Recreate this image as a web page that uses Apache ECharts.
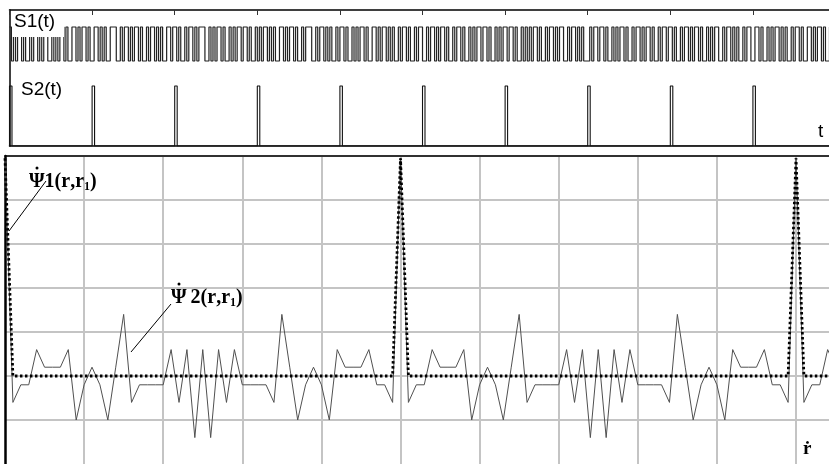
<!DOCTYPE html>
<html><head><meta charset="utf-8">
<script src="https://cdn.jsdelivr.net/npm/echarts@6/dist/echarts.min.js"></script>
<style>html,body{margin:0;padding:0;background:#fff;overflow:hidden}#c{width:829px;height:464px}</style>
</head><body><div id="c"></div>
<script>
// ---- top panel: S1(t) chip sequence (estimated), chips per period of S2
const s1ChipsPerPeriod = 41;
const s1Bits = [
  "10101101001011010110010101101001101011010",
  "01101010011100101101011010010110101001101",
  "10100101101011100101011010010101101101001",
  "01011010100110101101001011100101101010010",
  "11010010101101001101011010100101101001011",
  "00101101011010010110100101011011010010101",
  "10110100101010110100101101011001011010100",
  "01011011010010101101001011010110100101101",
  "10100101101011010010101100101101010010110",
  "01101001010110101001011010011010110100101"
].join('');
// S2(t) pulse start times (in periods) and pulse width
const s2PulseTimes = [0, 1, 2, 3, 4, 5, 6, 7, 8, 9];
const s2PulseWidth = 0.03;

// ---- bottom panel: correlation functions vs lag r
const lags = [0,1,2,3,4,5,6,7,8,9,10,11,12,13,14,15,16,17,18,19,20,21,22,23,24,25,26,27,28,29,30,31,32,33,34,35,36,37,38,39,40,41,42,43,44,45,46,47,48,49,50,51,52,53,54,55,56,57,58,59,60,61,62,63,64,65,66,67,68,69,70,71,72,73,74,75,76,77,78,79,80,81,82,83,84,85,86,87,88,89,90,91,92,93,94,95,96,97,98,99,100,101,102,103,104,105];
const psi1 = [4.95,0,0,0,0,0,0,0,0,0, 0,0,0,0,0,0,0,0,0,0, 0,0,0,0,0,0,0,0,0,0, 0,0,0,0,0,0,0,0,0,0, 0,0,0,0,0,0,0,0,0,0,
              4.95,0,0,0,0,0,0,0,0,0, 0,0,0,0,0,0,0,0,0,0, 0,0,0,0,0,0,0,0,0,0, 0,0,0,0,0,0,0,0,0,0, 0,0,0,0,0,0,0,0,0,0,
              4.95,0,0,0,0,0];
const psi2 = [4.95,-0.6,-0.2,-0.2,0.6,0.2,0.2,0.2,0.6,-1.0,
              -0.2,0.2,-0.2,-1.0,0.2,1.4,-0.6,-0.2,-0.2,-0.2,
              -0.2,0.6,-0.6,0.6,-1.4,0.6,-1.4,0.6,-0.6,0.6,
              -0.2,-0.2,-0.2,-0.2,-0.6,1.4,0.2,-1.0,-0.2,0.2,
              -0.2,-1.0,0.6,0.2,0.2,0.2,0.6,-0.2,-0.2,-0.6,
              4.95,-0.6,-0.2,-0.2,0.6,0.2,0.2,0.2,0.6,-1.0,
              -0.2,0.2,-0.2,-1.0,0.2,1.4,-0.6,-0.2,-0.2,-0.2,
              -0.2,0.6,-0.6,0.6,-1.4,0.6,-1.4,0.6,-0.6,0.6,
              -0.2,-0.2,-0.2,-0.2,-0.6,1.4,0.2,-1.0,-0.2,0.2,
              -0.2,-1.0,0.6,0.2,0.2,0.2,0.6,-0.2,-0.2,-0.6,
              4.95,-0.6,-0.2,-0.2,0.6,0.2];

// build series data
const s1Data = [];
for (let i = 0; i < s1Bits.length; i++) s1Data.push([i / s1ChipsPerPeriod, +s1Bits[i]]);
s1Data.push([s1Bits.length / s1ChipsPerPeriod, +s1Bits[s1Bits.length - 1]]);
const s2Data = [];
s2PulseTimes.forEach(p => { s2Data.push([p, 0], [p, 1], [p + s2PulseWidth, 1], [p + s2PulseWidth, 0]); });
s2Data.push([10, 0]);
const psi1Data = lags.map((k, i) => [k, psi1[i]]);
const psi2Data = lags.map((k, i) => [k, psi2[i]]);

const chart = echarts.init(document.getElementById('c'), null, {renderer: 'canvas'});
const black = '#000';
const hidden = {show: false};
const serif = '"Liberation Serif", "DejaVu Serif", serif';
const sans = '"Liberation Sans", Arial, sans-serif';
const psiRich = {
  p: {font: 'bold 20px ' + serif, fill: '#000'},
  b: {font: 'bold 20px ' + serif, fill: '#000'},
  s: {font: 'bold 12px ' + serif, fill: '#000', padding: [10, 0, 0, 0]}
};
chart.setOption({
  animation: false,
  backgroundColor: '#fff',
  grid: [
    {left: 9.5, top: 10, right: 0, height: 136},
    {left: 5, top: 156, right: 0, bottom: -3.5}
  ],
  xAxis: [
    {gridIndex: 0, type: 'value', min: 0, max: 9.921, interval: 1, position: 'top',
     axisLine: {show: true, onZero: false, lineStyle: {color: black, width: 1.5}},
     axisTick: {show: true, inside: true, length: 5, lineStyle: {color: '#333', width: 1}},
     axisLabel: hidden, splitLine: hidden},
    {gridIndex: 0, type: 'value', min: 0, max: 9.921, position: 'bottom',
     axisLine: {show: true, onZero: false, lineStyle: {color: black, width: 1.5}},
     axisTick: hidden, axisLabel: hidden, splitLine: hidden},
    {gridIndex: 1, type: 'value', min: 0, max: 104.17, interval: 10, position: 'top',
     axisLine: {show: true, onZero: false, lineStyle: {color: black, width: 1.5}},
     axisTick: hidden, axisLabel: hidden,
     splitLine: {show: true, showMinLine: false, showMaxLine: false, lineStyle: {color: '#c4c4c4', width: 2}}}
  ],
  yAxis: [
    {gridIndex: 0, type: 'value', min: -2.5, max: 1.5,
     axisLine: {show: true, onZero: false, lineStyle: {color: black, width: 1.5}},
     axisTick: hidden, axisLabel: hidden, splitLine: hidden},
    {gridIndex: 0, type: 'value', min: 0, max: 2.2667, show: false, splitLine: hidden},
    {gridIndex: 1, type: 'value', min: -2, max: 5, interval: 1,
     axisLine: {show: true, onZero: false, lineStyle: {color: black, width: 2.5}},
     axisTick: hidden, axisLabel: hidden,
     splitLine: {show: true, showMinLine: false, lineStyle: {color: '#c4c4c4', width: 2}}}
  ],
  series: [
    {name: 'S1(t)', type: 'line', xAxisIndex: 0, yAxisIndex: 0, data: s1Data, step: 'end',
     symbol: 'none', lineStyle: {color: '#222', width: 1.2}, clip: true},
    {name: 'S2(t)', type: 'line', xAxisIndex: 0, yAxisIndex: 1, data: s2Data,
     symbol: 'none', lineStyle: {color: '#111', width: 1.1}, clip: true},
    {name: 'Ψ2', type: 'line', xAxisIndex: 2, yAxisIndex: 2, data: psi2Data,
     symbol: 'none', lineStyle: {color: '#505050', width: 1}, clip: true, z: 3},
    {name: 'Ψ1', type: 'line', xAxisIndex: 2, yAxisIndex: 2, data: psi1Data,
     symbol: 'none', lineStyle: {color: '#000', width: 2.8, type: [2.5, 2.5]}, clip: true, z: 4}
  ],
  graphic: [
    {type: 'rect', z: 50, shape: {x: 12, y: 11, width: 52, height: 26}, style: {fill: '#fff'}},
    {type: 'text', z: 51, x: 14, y: 12, style: {text: 'S1(t)', font: '19px ' + sans, fill: '#000'}},
    {type: 'text', z: 51, x: 21, y: 80, style: {text: 'S2(t)', font: '19px ' + sans, fill: '#000'}},
    {type: 'text', z: 51, x: 818, y: 122, style: {text: 't', font: '19px ' + sans, fill: '#000'}},
    {type: 'text', z: 51, x: 29, y: 171, style: {text: '{p|Ψ1(}{b|r}{p|,}{b|r}{s|1}{p|)}', rich: psiRich}},
    {type: 'circle', z: 52, shape: {cx: 37, cy: 168, r: 1.5}, style: {fill: '#000'}},
    {type: 'line', z: 51, shape: {x1: 46, y1: 181, x2: 9, y2: 231}, style: {stroke: '#000', lineWidth: 1}},
    {type: 'text', z: 51, x: 171, y: 287, style: {text: '{p|Ψ\u20092(}{b|r}{p|,}{b|r}{s|1}{p|)}', rich: psiRich}},
    {type: 'circle', z: 52, shape: {cx: 179, cy: 284, r: 1.5}, style: {fill: '#000'}},
    {type: 'line', z: 51, shape: {x1: 171, y1: 304, x2: 131, y2: 352}, style: {stroke: '#000', lineWidth: 1}},
    {type: 'text', z: 51, x: 803, y: 440, style: {text: '\u1E59', font: 'bold 19px ' + serif, fill: '#000'}}
  ]
});
</script>
</body></html>
